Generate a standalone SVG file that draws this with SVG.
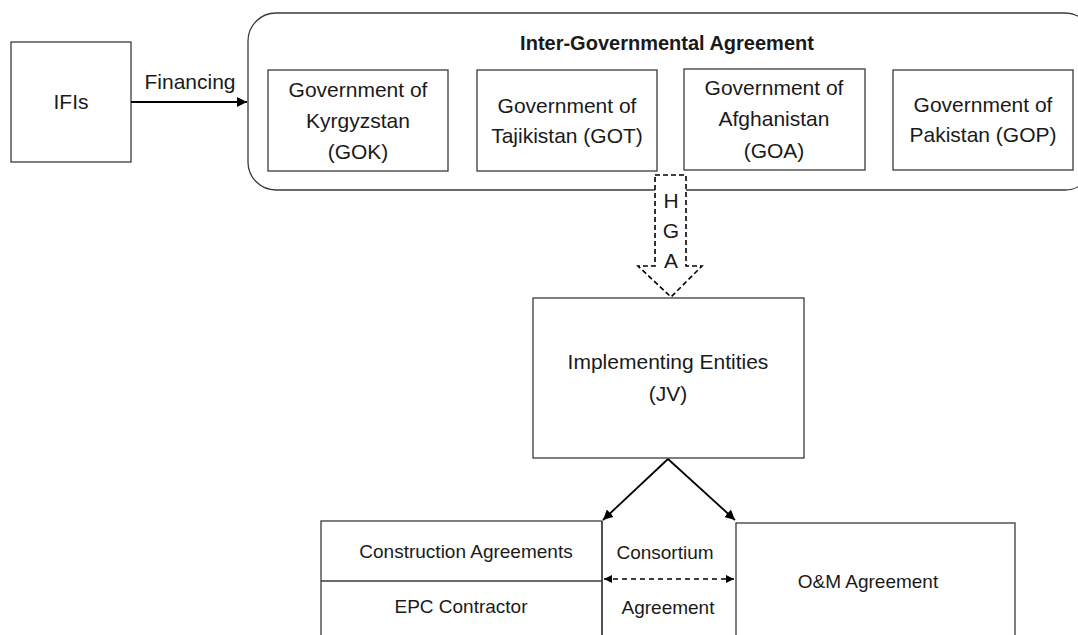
<svg xmlns="http://www.w3.org/2000/svg" width="1078" height="635" viewBox="0 0 1078 635">
<style>
.box{fill:#fff;stroke:#3a3a3a;stroke-width:1.3}
.t{font-family:"Liberation Sans",Arial,sans-serif;fill:#1a1a1a;text-anchor:middle}
.b20{font-size:21px}
.b18{font-size:19px}
.ttl{font-size:20px;font-weight:bold}
.con{stroke:#000;stroke-width:1.8;fill:none}
.dash{stroke:#000;stroke-width:1.6;fill:none;stroke-dasharray:5,4}
</style>
<defs>
<marker id="ah" markerUnits="userSpaceOnUse" markerWidth="12" markerHeight="10" refX="10" refY="5" orient="auto">
<path d="M0,0 L10,5 L0,10 z" fill="#000"/>
</marker>
<marker id="ahs" markerUnits="userSpaceOnUse" markerWidth="10" markerHeight="10" refX="8" refY="4" orient="auto-start-reverse">
<path d="M0,0 L8,4 L0,8 z" fill="#000"/>
</marker>
</defs>
<rect width="1078" height="635" fill="#fff"/>

<g id="iga">
<rect class="box" x="248" y="13" width="845" height="177" rx="28" ry="28"/>
<text class="t ttl" x="667" y="50">Inter-Governmental Agreement</text>
</g>

<g id="ifis">
<rect class="box" x="11" y="42" width="120" height="120"/>
<text class="t b20" x="71" y="109">IFIs</text>
</g>

<g id="gok">
<rect class="box" x="268" y="70" width="180" height="101"/>
<text class="t b20" x="358" y="97">Government of</text>
<text class="t b20" x="358" y="128">Kyrgyzstan</text>
<text class="t b20" x="358" y="159">(GOK)</text>
</g>

<g id="got">
<rect class="box" x="477" y="70" width="180" height="101"/>
<text class="t b20" x="567" y="113">Government of</text>
<text class="t b20" x="567" y="143">Tajikistan (GOT)</text>
</g>

<g id="goa">
<rect class="box" x="684" y="69" width="181" height="101"/>
<text class="t b20" x="774" y="95">Government of</text>
<text class="t b20" x="774" y="126">Afghanistan</text>
<text class="t b20" x="774" y="158">(GOA)</text>
</g>

<g id="gop">
<rect class="box" x="893" y="70" width="180" height="100"/>
<text class="t b20" x="983" y="112">Government of</text>
<text class="t b20" x="983" y="142">Pakistan (GOP)</text>
</g>

<g id="ie">
<rect class="box" x="533" y="298" width="271" height="160"/>
<text class="t b20" x="668" y="369">Implementing Entities</text>
<text class="t b20" x="668" y="401">(JV)</text>
</g>

<g id="epc">
<rect class="box" x="321" y="521" width="281" height="130"/>
<line class="box" x1="321" y1="581" x2="602" y2="581"/>
<text class="t b18" x="466" y="558">Construction Agreements</text>
<text class="t b18" x="461" y="613">EPC Contractor</text>
</g>

<g id="consortium">
<line class="box" x1="602" y1="521" x2="602" y2="640"/>
<text class="t b18" x="665" y="559">Consortium</text>
<text class="t b18" x="668" y="614">Agreement</text>
</g>

<g id="om">
<rect class="box" x="736" y="523" width="279" height="130"/>
<text class="t b18" x="868" y="588">O&amp;M Agreement</text>
</g>

<g id="connectors">
<line class="con" x1="131" y1="102" x2="247" y2="102" marker-end="url(#ah)"/>
<text class="t b20" x="190" y="89">Financing</text>
<polygon points="655,175 686,175 686,266 702,266 671,297 638,266 655,266" fill="#fff" stroke="#000" stroke-width="1.6" stroke-dasharray="5,3"/>
<text class="t b20" x="671" y="208">H</text>
<text class="t b20" x="671" y="238">G</text>
<text class="t b20" x="671" y="268">A</text>
<line class="con" x1="668" y1="459" x2="603" y2="520" marker-end="url(#ah)"/>
<line class="con" x1="668" y1="459" x2="735" y2="520" marker-end="url(#ah)"/>
<line class="dash" x1="604" y1="579" x2="734" y2="579" marker-start="url(#ahs)" marker-end="url(#ahs)"/>
</g>
</svg>
